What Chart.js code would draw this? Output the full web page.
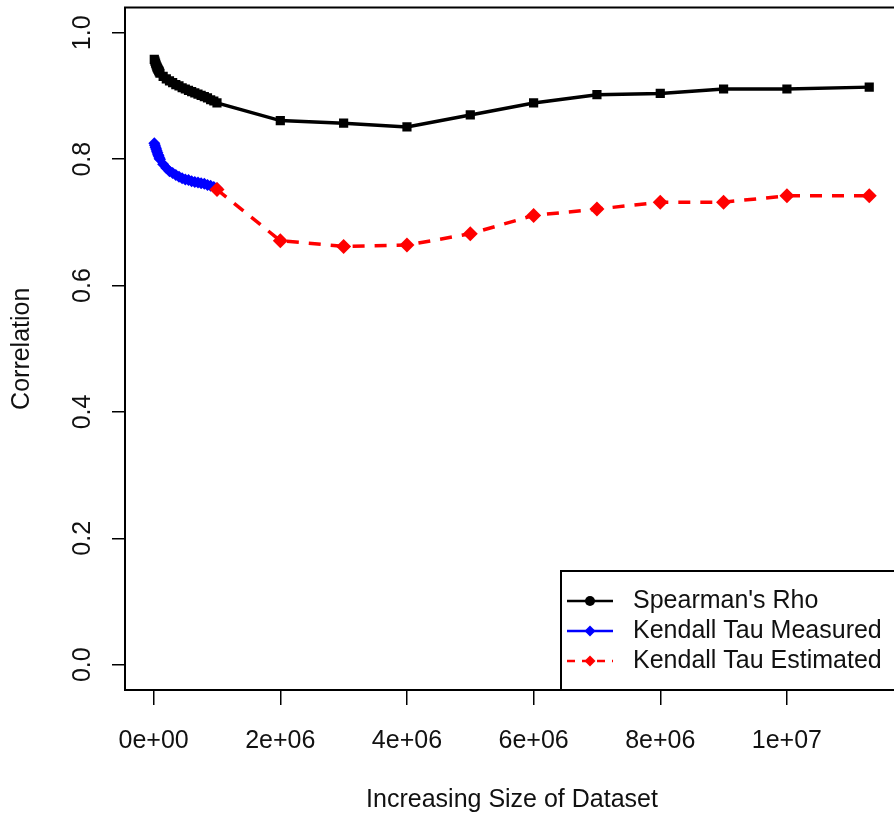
<!DOCTYPE html>
<html>
<head>
<meta charset="utf-8">
<script src="https://cdn.jsdelivr.net/npm/chart.js@4.4.1/dist/chart.umd.min.js"></script>
<style>
  html, body { margin: 0; padding: 0; background: #fff; overflow: hidden; }
  #wrap { width: 910px; height: 815px; }
</style>
</head>
<body>
<div id="wrap"><canvas id="corrChart" width="910" height="815"></canvas></div>
<script>
// ─── DATA ────────────────────────────────────────────────────────
const sizesSmall = [
  10000, 20000, 30000, 40000, 50000, 60000, 70000, 80000, 90000, 100000,
  150000, 200000, 250000, 300000, 350000, 400000, 450000, 500000, 550000,
  600000, 650000, 700000, 750000, 800000, 850000, 900000, 950000, 1000000,
];
const rhoSmall = [
  0.958, 0.955, 0.952, 0.949, 0.946, 0.944, 0.942, 0.940, 0.938, 0.936,
  0.931, 0.927, 0.924, 0.921, 0.918, 0.916, 0.913, 0.911, 0.909,
  0.907, 0.905, 0.903, 0.901, 0.899, 0.897, 0.894, 0.892, 0.889,
];
const tauMeasured = [
  0.825, 0.822, 0.819, 0.816, 0.813, 0.810, 0.807, 0.805, 0.802, 0.800,
  0.792, 0.786, 0.781, 0.778, 0.775, 0.772, 0.770, 0.768, 0.767,
  0.765, 0.764, 0.763, 0.762, 0.761, 0.759, 0.758, 0.756, 0.754,
];
const sizesLarge = [2e6, 3e6, 4e6, 5e6, 6e6, 7e6, 8e6, 9e6, 1e7, 11.3e6];
const rhoLarge = [0.861, 0.857, 0.851, 0.870, 0.889, 0.902, 0.904, 0.911, 0.911, 0.914];
const sizesEstimated = [1e6, 2e6, 3e6, 4e6, 5e6, 6e6, 7e6, 8e6, 9e6, 1e7, 11.3e6];
const tauEstimated = [0.752, 0.671, 0.662, 0.664, 0.682, 0.711, 0.721, 0.732, 0.732, 0.742, 0.742];

const xTicks = [0, 2e6, 4e6, 6e6, 8e6, 1e7];
const yTicks = [0, 0.2, 0.4, 0.6, 0.8, 1.0];

const seriesNames = ["Spearman's Rho", "Kendall Tau Measured", "Kendall Tau Estimated"];
const xTitle = "Increasing Size of Dataset";
const yTitle = "Correlation";

const FONT = "25px 'Liberation Sans', Arial, sans-serif";
const INK = "#111";

const toPoints = (xs, ys) => xs.map((x, i) => ({ x, y: ys[i] }));

// 2e+06 style labels, like R
function sciLabel(v) {
  if (v === 0) return "0e+00";
  const exp = Math.floor(Math.log10(v));
  const mant = Math.round(v / Math.pow(10, exp));
  return `${mant}e+${String(exp).padStart(2, "0")}`;
}

// ─── R-style frame, labels, legend ───────────────────────────────
const rFrame = {
  id: "rFrame",
  afterDraw(chart) {
    const ctx = chart.ctx;
    const { left, top, right, bottom } = chart.chartArea;
    const xs = chart.scales.x;
    const ys = chart.scales.y;

    ctx.save();
    ctx.strokeStyle = "#000";
    ctx.lineWidth = 2;
    ctx.strokeRect(left, top, right - left, bottom - top);

    ctx.fillStyle = INK;
    ctx.font = FONT;
    ctx.textAlign = "center";
    ctx.textBaseline = "middle";

    xTicks.forEach((v) => {
      ctx.fillText(sciLabel(v), xs.getPixelForValue(v), 741);
    });
    yTicks.forEach((v) => {
      ctx.save();
      ctx.translate(83, ys.getPixelForValue(v));
      ctx.rotate(-Math.PI / 2);
      ctx.fillText(v.toFixed(1), 0, 0);
      ctx.restore();
    });

    ctx.fillText(xTitle, (left + right) / 2, 800);
    ctx.save();
    ctx.translate(22, (top + bottom) / 2);
    ctx.rotate(-Math.PI / 2);
    ctx.fillText(yTitle, 0, 0);
    ctx.restore();

    // legend box, bottom right
    ctx.lineWidth = 2;
    ctx.strokeRect(561, 571, 400, bottom - 571);
    const rows = [601, 631, 661];
    chart.data.datasets.forEach((ds, i) => {
      const y = rows[i];
      ctx.strokeStyle = ds.borderColor;
      ctx.lineWidth = 2.5;
      ctx.setLineDash(ds.borderDash ? [8, 7] : []);
      ctx.beginPath();
      ctx.moveTo(567, y);
      ctx.lineTo(613, y);
      ctx.stroke();
      ctx.setLineDash([]);
      ctx.fillStyle = ds.borderColor;
      ctx.beginPath();
      if (i === 0) {
        ctx.arc(590, y, 5, 0, Math.PI * 2);
      } else {
        ctx.moveTo(590, y - 5.5);
        ctx.lineTo(595.5, y);
        ctx.lineTo(590, y + 5.5);
        ctx.lineTo(584.5, y);
        ctx.closePath();
      }
      ctx.fill();
      ctx.fillStyle = INK;
      ctx.textAlign = "left";
      ctx.fillText(ds.label, 633, y);
    });
    ctx.restore();
  },
};

new Chart(document.getElementById("corrChart"), {
  type: "line",
  data: {
    datasets: [
      {
        label: seriesNames[0],
        data: toPoints(sizesSmall.concat(sizesLarge), rhoSmall.concat(rhoLarge)),
        borderColor: "#000000",
        backgroundColor: "#000000",
        borderWidth: 3.5,
        pointStyle: "rect",
        pointRadius: 6.5,
        pointBorderWidth: 0,
        order: 1,
      },
      {
        label: seriesNames[1],
        data: toPoints(sizesSmall, tauMeasured),
        borderColor: "#0000ff",
        backgroundColor: "#0000ff",
        borderWidth: 3.5,
        pointStyle: "rectRot",
        pointRadius: 6,
        pointBorderWidth: 0,
        order: 2,
      },
      {
        label: seriesNames[2],
        data: toPoints(sizesEstimated, tauEstimated),
        borderColor: "#ff0000",
        backgroundColor: "#ff0000",
        borderWidth: 3.5,
        borderDash: [12, 10],
        pointStyle: "rectRot",
        pointRadius: 7.5,
        pointBorderWidth: 0,
        order: 0,
      },
    ],
  },
  options: {
    responsive: false,
    animation: false,
    devicePixelRatio: 1,
    layout: { padding: { top: 7, right: 11, left: 0, bottom: 0 } },
    plugins: { legend: { display: false }, tooltip: { enabled: false } },
    scales: {
      x: {
        type: "linear",
        min: -0.4525e6,
        max: 11.77e6,
        afterBuildTicks: (s) => { s.ticks = xTicks.map((v) => ({ value: v })); },
        afterFit: (s) => { s.height = 125; },
        ticks: { display: false },
        border: { display: false },
        grid: { drawOnChartArea: false, drawTicks: true, tickLength: 15, color: "#000", lineWidth: 1.5 },
      },
      y: {
        type: "linear",
        min: -0.04,
        max: 1.04,
        afterBuildTicks: (s) => { s.ticks = yTicks.map((v) => ({ value: v })); },
        afterFit: (s) => { s.width = 125; },
        ticks: { display: false },
        border: { display: false },
        grid: { drawOnChartArea: false, drawTicks: true, tickLength: 13, color: "#000", lineWidth: 1.5 },
      },
    },
  },
  plugins: [rFrame],
});
</script>
</body>
</html>
